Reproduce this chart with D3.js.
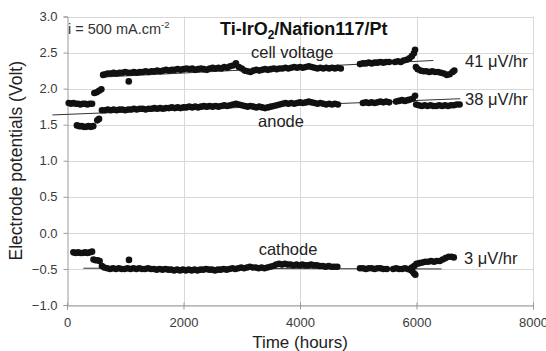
<!DOCTYPE html>
<html><head><meta charset="utf-8">
<script src="https://cdn.jsdelivr.net/npm/d3@7"></script>
<style>
html,body{margin:0;padding:0;background:#fff;}
svg{display:block;font-family:"Liberation Sans",Arial,sans-serif;}
</style></head><body>
<svg id="c" width="546" height="351"></svg>
<script>
// ---- data (time in hours, potential in volts) ----
const cellTime = [30,70,110,150,190,230,270,310,350,390,430,
  470,510,550,590,
  620,660,700,750,800,850,900,950,1000,1050,1060,1100,1150,1200,1250,1300,1350,1400,1450,1500,1550,1600,1650,1700,1750,1800,1850,1900,1950,2000,
  2050,2100,2150,2200,2250,2300,2350,2400,2450,2500,2550,2600,2650,2700,2750,2800,2850,2900,2950,3000,3050,3100,3150,3200,3250,3300,3350,3400,3450,3500,
  3550,3600,3650,3700,3750,3800,3850,3900,3950,4000,4050,4100,4150,4200,4250,4300,4350,4400,4450,4500,4550,4600,4650,4700,
  5030,5080,5130,5180,5230,5280,5330,5380,5430,5480,5530,
  5630,5680,5730,5780,5830,5880,5920,5955,5975,
  5990,6020,6070,6120,6170,6220,6270,6320,6370,6420,6470,6520,6570,6620,6650];
const cellVolt = [1.80,1.79,1.80,1.79,1.79,1.78,1.79,1.79,1.78,1.79,1.79,
  1.94,1.95,1.97,1.99,
  2.19,2.20,2.21,2.21,2.22,2.21,2.22,2.22,2.23,2.22,2.10,2.22,2.23,2.22,2.23,2.23,2.24,2.23,2.24,2.24,2.25,2.24,2.25,2.26,2.25,2.26,2.26,2.27,2.26,2.27,
  2.28,2.27,2.28,2.26,2.27,2.28,2.27,2.26,2.28,2.29,2.28,2.29,2.28,2.30,2.29,2.31,2.32,2.35,2.30,2.28,2.25,2.24,2.23,2.25,2.26,2.25,2.26,2.27,2.26,2.27,
  2.28,2.27,2.28,2.28,2.29,2.28,2.29,2.30,2.29,2.30,2.29,2.30,2.31,2.30,2.29,2.28,2.29,2.28,2.29,2.28,2.29,2.28,2.29,2.28,
  2.34,2.35,2.35,2.36,2.35,2.36,2.36,2.37,2.36,2.37,2.37,
  2.37,2.38,2.37,2.39,2.40,2.42,2.45,2.49,2.54,
  2.30,2.27,2.25,2.24,2.24,2.23,2.24,2.23,2.23,2.22,2.21,2.19,2.20,2.23,2.25];

const anodeTime = [170,210,250,290,330,370,410,450,
  520,550,
  600,650,700,750,800,850,900,950,1000,1050,1100,1150,1200,1250,1300,1350,1400,1450,1500,1550,1600,1650,1700,1750,1800,1850,1900,1950,2000,
  2050,2100,2150,2200,2250,2300,2350,2400,2450,2500,2550,2600,2650,2700,2750,2800,2850,2900,2950,3000,3050,3100,3150,3200,3250,3300,3350,3400,3450,3500,
  3550,3600,3650,3700,3750,3800,3850,3900,3950,4000,4050,4100,4150,4200,4250,4300,4350,4400,4450,4500,4550,4600,4650,
  5080,5130,5180,5230,5280,5330,5380,5430,5480,5530,
  5650,5700,5750,5800,5850,5890,5935,5975,
  5995,6040,6090,6140,6190,6240,6290,6340,6390,6440,6490,6540,6590,6640,6690,6740];
const anodeVolt = [1.49,1.48,1.48,1.47,1.47,1.48,1.47,1.48,
  1.56,1.58,
  1.70,1.70,1.71,1.70,1.71,1.70,1.71,1.71,1.70,1.71,1.71,1.72,1.71,1.72,1.72,1.71,1.72,1.72,1.73,1.72,1.73,1.72,1.73,1.73,1.74,1.73,1.74,1.73,1.74,
  1.74,1.75,1.74,1.75,1.74,1.75,1.76,1.75,1.76,1.75,1.76,1.75,1.76,1.77,1.76,1.77,1.78,1.79,1.78,1.77,1.76,1.75,1.76,1.75,1.74,1.75,1.74,1.73,1.74,1.75,
  1.76,1.77,1.78,1.79,1.80,1.79,1.80,1.79,1.80,1.81,1.80,1.81,1.82,1.81,1.80,1.79,1.80,1.79,1.78,1.79,1.78,1.79,1.78,
  1.80,1.81,1.80,1.81,1.80,1.81,1.82,1.81,1.82,1.81,
  1.82,1.83,1.84,1.83,1.84,1.85,1.86,1.90,
  1.78,1.77,1.76,1.77,1.76,1.77,1.76,1.76,1.77,1.76,1.77,1.76,1.77,1.77,1.78,1.78];

const cathodeTime = [110,150,190,230,270,310,350,390,430,
  455,490,525,560,
  600,640,690,740,790,840,890,940,990,1040,1064,1090,1140,1190,1240,1290,1340,1390,1440,1490,1540,1590,1640,1690,1740,1790,1840,1890,1940,1990,
  2040,2090,2140,2190,2240,2290,2340,2390,2440,2490,2540,2590,2640,2690,2740,2790,2840,2890,2940,2990,3040,3090,3140,3190,3240,3290,3340,3390,3440,3490,
  3540,3590,3640,3690,3740,3790,3840,3890,3940,3990,4040,4090,4140,4190,4240,4290,4340,4390,4440,4490,4540,4590,4640,
  5030,5080,5130,5180,5230,5280,5330,5380,5430,5490,
  5600,5650,5700,5750,5800,5850,5890,5925,5955,5980,
  5920,5960,6000,6050,6100,6150,6200,6250,6300,6350,6400,6450,6500,6550,6600,6640];
const cathodeVolt = [-0.27,-0.28,-0.27,-0.28,-0.28,-0.27,-0.28,-0.27,-0.26,
  -0.37,-0.38,-0.38,-0.39,
  -0.46,-0.48,-0.49,-0.50,-0.49,-0.50,-0.49,-0.50,-0.50,-0.49,-0.375,-0.50,-0.49,-0.50,-0.49,-0.50,-0.50,-0.49,-0.50,-0.50,-0.51,-0.50,-0.51,-0.50,-0.51,-0.51,-0.52,-0.51,-0.52,-0.51,
  -0.52,-0.51,-0.52,-0.51,-0.52,-0.51,-0.51,-0.50,-0.51,-0.51,-0.52,-0.51,-0.51,-0.50,-0.51,-0.50,-0.49,-0.50,-0.49,-0.48,-0.49,-0.48,-0.47,-0.48,-0.48,-0.49,-0.48,-0.49,-0.48,-0.47,
  -0.46,-0.44,-0.43,-0.44,-0.43,-0.44,-0.44,-0.45,-0.44,-0.45,-0.44,-0.45,-0.45,-0.44,-0.45,-0.45,-0.46,-0.46,-0.47,-0.46,-0.47,-0.47,-0.47,
  -0.49,-0.49,-0.50,-0.49,-0.49,-0.50,-0.49,-0.49,-0.50,-0.50,
  -0.50,-0.49,-0.50,-0.50,-0.49,-0.50,-0.51,-0.53,-0.56,-0.58,
  -0.48,-0.46,-0.43,-0.42,-0.41,-0.40,-0.40,-0.39,-0.40,-0.39,-0.39,-0.37,-0.35,-0.33,-0.33,-0.34];

// linear trend lines: [time, volt] end points
const cellTrend = [[600, 2.16], [6290, 2.39]];
const anodeTrend = [[-250, 1.635], [6750, 1.86]];
const cathodeTrend = [[280, -0.49], [6430, -0.50]];

const xTicks = [0, 2000, 4000, 6000, 8000];
const yTicks = [-1.0, -0.5, 0.0, 0.5, 1.0, 1.5, 2.0, 2.5, 3.0];

// ---- drawing ----
const svg = d3.select("#c");
const x = d3.scaleLinear().domain([0, 8000]).range([67, 533]);
const y = d3.scaleLinear().domain([-1, 3]).range([305, 16.5]);

// grid
const grid = svg.append("g").attr("stroke", "#d8d8d8").attr("stroke-width", 1);
grid.selectAll("line.h").data(yTicks).join("line")
  .attr("x1", x(0)).attr("x2", x(8000))
  .attr("y1", d => Math.round(y(d)) + 0.5).attr("y2", d => Math.round(y(d)) + 0.5);
grid.selectAll("line.v").data(xTicks.slice(1)).join("line")
  .attr("y1", y(3)).attr("y2", y(-1))
  .attr("x1", d => Math.round(x(d)) + 0.5).attr("x2", d => Math.round(x(d)) + 0.5);

// axes
const yAxis = svg.append("g").attr("transform", `translate(${Math.round(x(0)) + 0.5},0)`)
  .call(d3.axisLeft(y).tickValues(yTicks).tickFormat(d3.format(".1f")).tickSize(4).tickPadding(6));
const xAxis = svg.append("g").attr("transform", `translate(0,${Math.round(y(-1)) + 0.5})`)
  .call(d3.axisBottom(x).tickValues(xTicks).tickFormat(d3.format("d")).tickSize(4).tickPadding(8));
[yAxis, xAxis].forEach(a => {
  a.select(".domain").attr("stroke", "#9a9a9a");
  a.selectAll(".tick line").attr("stroke", "#9a9a9a");
  a.selectAll(".tick text").attr("fill", "#3a3a3a").style("font-size", "13px")
    .style("font-family", "'Liberation Sans',Arial,sans-serif");
});
xAxis.selectAll(".tick line").attr("y1", -3);

// trend lines
const line = d3.line().x(d => x(d[0])).y(d => y(d[1]));
[cellTrend, anodeTrend, cathodeTrend].forEach(t => {
  svg.append("path").attr("d", line(t)).attr("fill", "none")
    .attr("stroke", "#333").attr("stroke-width", 1);
});

// points
function pts(times, volts) {
  svg.append("g").selectAll("circle").data(times.map((t, i) => [t, volts[i]])).join("circle")
    .attr("cx", d => x(d[0])).attr("cy", d => y(d[1])).attr("r", 3.3).attr("fill", "#111");
}
pts(cellTime, cellVolt);
pts(anodeTime, anodeVolt);
pts(cathodeTime, cathodeVolt);

// texts
const T = (tx, ty, s, size, opts = {}) => svg.append("text").attr("x", tx).attr("y", ty)
  .attr("font-size", size).attr("fill", opts.fill || "#222")
  .attr("text-anchor", opts.anchor || "start").attr("font-weight", opts.weight || "normal").text(s);

const t1 = T(68, 34, "i = 500 mA.cm", "14.5px", {fill: "#333"});
t1.append("tspan").attr("dy", -6).attr("font-size", "9.5px").text("-2");

const t2 = T(220, 35, "Ti-IrO", "18px", {weight: "bold", fill: "#111"});
t2.append("tspan").attr("dy", 4).attr("font-size", "12px").text("2");
t2.append("tspan").attr("dy", -4).text("/Nafion117/Pt");

T(251, 58, "cell voltage", "16.5px");
T(281, 127, "anode", "16.5px", {anchor: "middle"});
T(288, 255, "cathode", "16.5px", {anchor: "middle"});
T(465, 67, "41 μV/hr", "16.5px");
T(465, 105, "38 μV/hr", "16.5px");
T(464, 264, "3 μV/hr", "16.5px");

T(300, 348, "Time (hours)", "17px", {anchor: "middle", fill: "#222"});
svg.append("text").attr("transform", `translate(22,${(y(3) + y(-1)) / 2}) rotate(-90)`)
  .attr("text-anchor", "middle").attr("font-size", "17.5px").attr("fill", "#222")
  .text("Electrode potentials (Volt)");
</script>
</body></html>
